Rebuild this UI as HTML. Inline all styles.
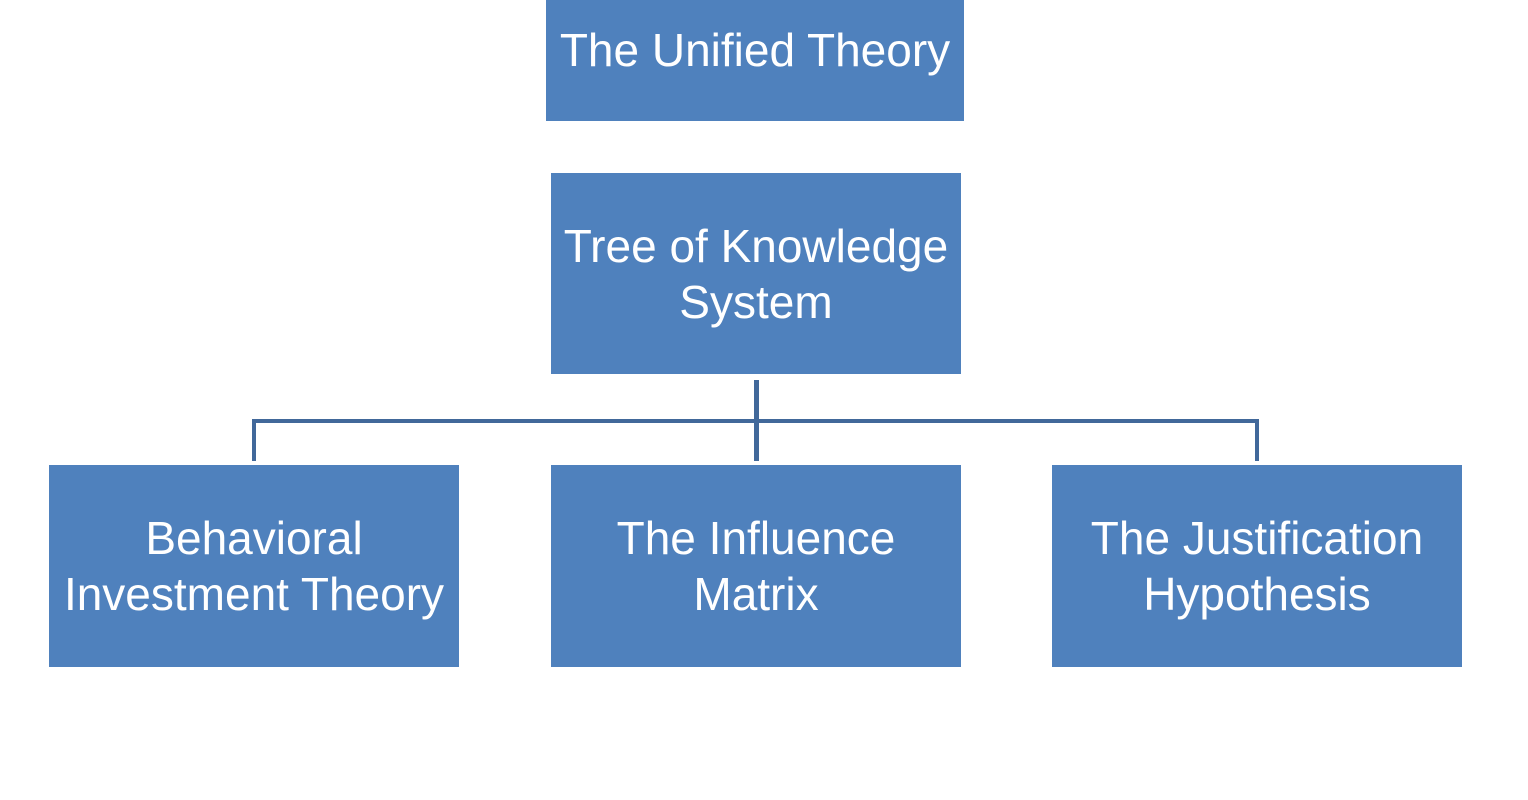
<!DOCTYPE html>
<html><head><meta charset="utf-8"><style>
html,body{margin:0;padding:0;background:#fff;width:1528px;height:800px;overflow:hidden;position:relative}
.b{position:absolute;background:#4f81bd;color:#fff;font-family:"Liberation Sans",sans-serif;font-size:46px;line-height:56px;display:flex;align-items:center;justify-content:center;text-align:center;box-sizing:border-box;white-space:nowrap}
.l{position:absolute;background:#41689a}
</style></head><body>
<div class="b" style="left:546px;top:0;width:418px;height:121px;padding-bottom:22px">The Unified Theory</div>
<div class="b" style="left:551px;top:173px;width:410px;height:201px">Tree of Knowledge<br>System</div>
<div class="b" style="left:49px;top:465px;width:410px;height:202px">Behavioral<br>Investment Theory</div>
<div class="b" style="left:551px;top:465px;width:410px;height:202px">The Influence<br>Matrix</div>
<div class="b" style="left:1052px;top:465px;width:410px;height:202px">The Justification<br>Hypothesis</div>
<div class="l" style="left:754px;top:380px;width:5px;height:81px"></div>
<div class="l" style="left:252px;top:419px;width:1007px;height:4px"></div>
<div class="l" style="left:252px;top:419px;width:4px;height:42px"></div>
<div class="l" style="left:1255px;top:419px;width:4px;height:42px"></div>
</body></html>
